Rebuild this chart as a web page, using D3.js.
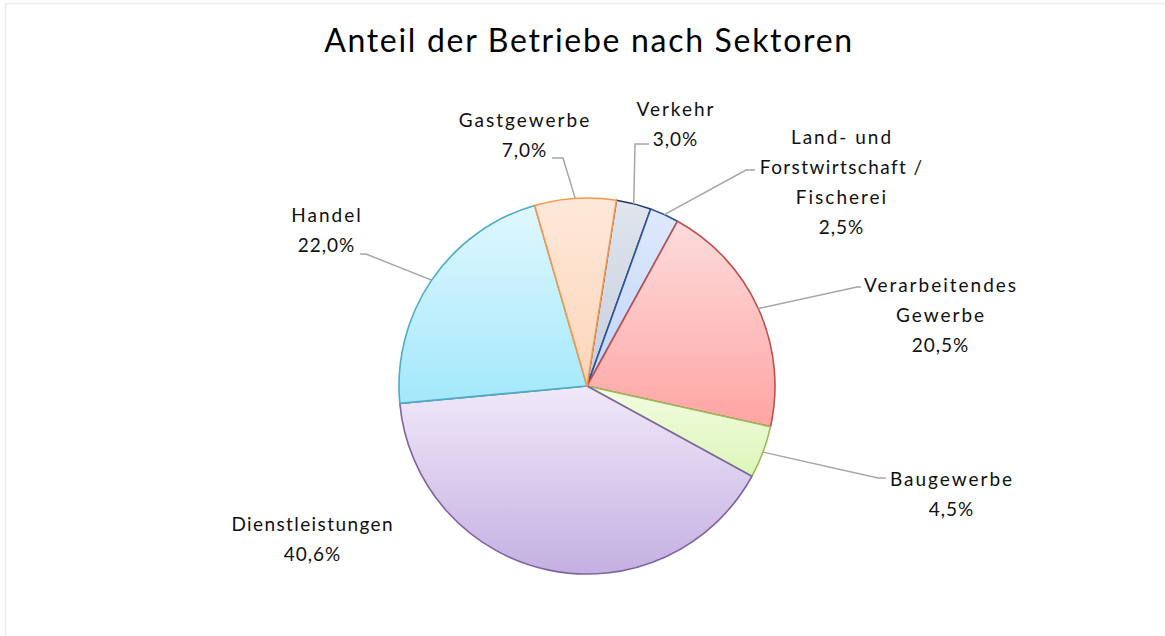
<!DOCTYPE html>
<html>
<head>
<meta charset="utf-8">
<script src="https://cdn.jsdelivr.net/npm/d3@7"></script>
<style>
  body { margin: 0; background: #fff; }
  svg { display: block; font-family: Lato, "Open Sans", sans-serif; }
</style>
</head>
<body>
<div id="chart"></div>
<script>
/* DATA */
const sectors = ["Verkehr", "Land- und Forstwirtschaft / Fischerei", "Verarbeitendes Gewerbe",
                 "Baugewerbe", "Dienstleistungen", "Handel", "Gastgewerbe"];
const shares = [3.0, 2.5, 20.5, 4.5, 40.6, 22.0, 7.0];
const labelLines = [["Verkehr"], ["Land- und", "Forstwirtschaft /", "Fischerei"],
                    ["Verarbeitendes", "Gewerbe"], ["Baugewerbe"], ["Dienstleistungen"],
                    ["Handel"], ["Gastgewerbe"]];

/* CONSTANTS AND GLOBALS */
const width = 1165, height = 636,
      cx = 587, cy = 386, radius = 188,
      lineH = 30;

// fill gradient (top, bottom) and outline per slice
const colors = [
  {top: "#e0e5ee", bottom: "#c5cedc", stroke: "#1f3864"},
  {top: "#dee9fc", bottom: "#c0d4f7", stroke: "#2f5597"},
  {top: "#fddcdc", bottom: "#ffa5a3", stroke: "#c0504d"},
  {top: "#f3fce2", bottom: "#dbf6b8", stroke: "#9bbb59"},
  {top: "#f0e9f8", bottom: "#c4b0e2", stroke: "#8064a2"},
  {top: "#e0f7fe", bottom: "#a3e8fb", stroke: "#4bacc6"},
  {top: "#fee8d9", bottom: "#fdd6bb", stroke: "#f79646"}
];

// label anchor (text centre, first baseline) and leader elbow
const labelLayout = [
  {x: 675, y: 116, elbow: [635, 144], end: [649, 144]},
  {x: 841, y: 144, elbow: [746, 170], end: [755, 170]},
  {x: 940, y: 292, elbow: [857, 287], end: [861, 287]},
  {x: 951, y: 486, elbow: [878, 478], end: [886, 478]},
  {x: 312, y: 531, elbow: null},
  {x: 326, y: 222, elbow: [366, 254], end: [360, 254]},
  {x: 524, y: 127, elbow: [563, 158], end: [552, 158]}
];

const data = sectors.map((s, i) => ({sector: s, share: shares[i], lines: labelLines[i], i}));

const svg = d3.select("#chart").append("svg")
  .attr("width", width)
  .attr("height", height);

/* FRAME */
svg.append("path")
  .attr("d", `M5.5,${height}V3.5H${width}`)
  .attr("fill", "none")
  .attr("stroke", "#ececec")
  .attr("stroke-width", 1.5);

/* TITLE */
svg.append("text")
  .attr("x", 589)
  .attr("y", 52)
  .attr("text-anchor", "middle")
  .style("font-size", "32px")
  .style("letter-spacing", "1.7px")
  .style("fill", "#000")
  .text("Anteil der Betriebe nach Sektoren");

/* GRADIENTS */
const defs = svg.append("defs");
colors.forEach((c, i) => {
  const g = defs.append("linearGradient")
    .attr("id", "grad" + i)
    .attr("x1", 0).attr("y1", 0).attr("x2", 0).attr("y2", 1);
  g.append("stop").attr("offset", "0%").attr("stop-color", c.top);
  g.append("stop").attr("offset", "100%").attr("stop-color", c.bottom);
});

/* PIE */
const startAngle = 9 * Math.PI / 180;
const pie = d3.pie()
  .sort(null)
  .value(d => d.share)
  .startAngle(startAngle)
  .endAngle(startAngle + 2 * Math.PI);

const arc = d3.arc().innerRadius(0).outerRadius(radius);
const arcs = pie(data);

const g = svg.append("g").attr("transform", `translate(${cx},${cy})`);

g.selectAll("path.slice")
  .data(arcs)
  .join("path")
    .attr("class", "slice")
    .attr("d", arc)
    .attr("fill", d => `url(#grad${d.data.i})`)
    .attr("stroke", d => colors[d.data.i].stroke)
    .attr("stroke-width", 1.6)
    .attr("stroke-linejoin", "round");

/* LEADER LINES */
const edgePoint = d => {
  const a = (d.startAngle + d.endAngle) / 2;
  return [cx + Math.sin(a) * radius, cy - Math.cos(a) * radius];
};

svg.selectAll("polyline.leader")
  .data(arcs.filter(d => labelLayout[d.data.i].elbow))
  .join("polyline")
    .attr("class", "leader")
    .attr("points", d => {
      const L = labelLayout[d.data.i];
      return [edgePoint(d), L.elbow, L.end].map(p => p.join(",")).join(" ");
    })
    .attr("fill", "none")
    .attr("stroke", "#a6a6a6")
    .attr("stroke-width", 1.5);

/* LABELS */
const fmt = v => d3.format(".1f")(v).replace(".", ",") + "%";

const labels = svg.selectAll("text.label")
  .data(arcs)
  .join("text")
    .attr("class", "label")
    .attr("text-anchor", "middle")
    .style("font-size", "19px")
    .style("fill", "#111");

labels.each(function(d) {
  const L = labelLayout[d.data.i];
  const t = d3.select(this);
  const lines = d.data.lines.concat([fmt(d.data.share)]);
  lines.forEach((line, k) => {
    const isValue = k === lines.length - 1;
    const spacing = isValue ? 1 : (line.length > 15 ? 1.4 : 2);
    t.append("tspan")
      .attr("x", L.x + spacing / 2)
      .attr("y", L.y + k * lineH)
      .style("letter-spacing", spacing + "px")
      .text(line);
  });
});
</script>
</body>
</html>
